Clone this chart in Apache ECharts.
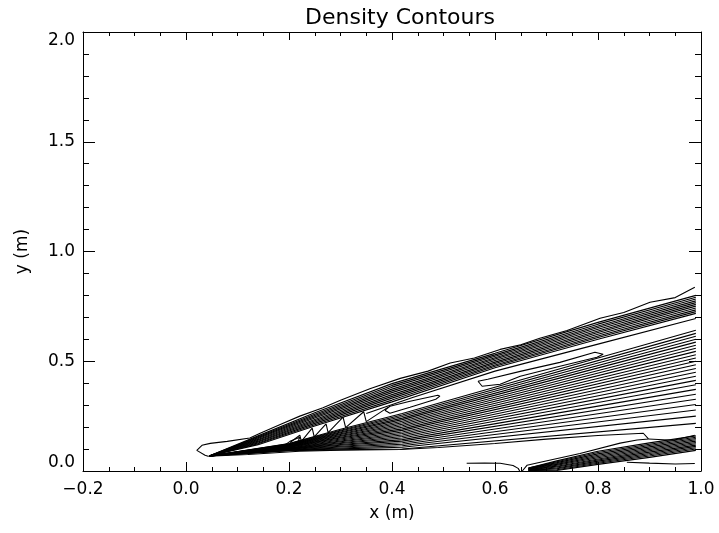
<!DOCTYPE html>
<html>
<head>
<meta charset="utf-8">
<script src="https://cdn.jsdelivr.net/npm/echarts@6/dist/echarts.min.js"></script>
<style>
html,body{margin:0;padding:0;background:#fff;}
#chart{width:719px;height:533px;}
</style>
</head>
<body>
<div id="chart"></div>
<script>
// ---- axis ticks ----
const xTicks = [-0.2, 0.0, 0.2, 0.4, 0.6, 0.8, 1.0];
const yTicks = [0.0, 0.5, 1.0, 1.5, 2.0];

// ---- contour lines (data coordinates) ----
const origin = [0.045, 0.068];

const outerContour = [[0.043,0.067],[0.037,0.072],[0.021,0.094],[0.031,0.117],[0.047,0.126],[0.080,0.135],[0.124,0.150],[0.144,0.172],[0.183,0.212],[0.221,0.250],[0.266,0.288],[0.300,0.322],[0.357,0.375],[0.416,0.422],[0.470,0.455],[0.513,0.492],[0.560,0.515],[0.610,0.554],[0.650,0.575],[0.687,0.605],[0.740,0.640],[0.804,0.696],[0.850,0.722],[0.901,0.769],[0.950,0.790],[0.988,0.837]];

// upper band: y at x = bandX for each line
const bandX = [0.14, 0.25, 0.40, 0.60, 0.80, 0.99];
const band014 = [0.160,0.156,0.152,0.148,0.144,0.140,0.136,0.132,0.128,0.124,0.120];
const band025 = [0.265,0.259,0.253,0.247,0.241,0.235,0.229,0.223,0.217,0.211,0.205];
const band040 = [0.398,0.390,0.382,0.373,0.365,0.357,0.348,0.340,0.332,0.323,0.315];
const band060 = [0.536,0.529,0.523,0.516,0.510,0.503,0.496,0.490,0.483,0.477,0.470];
const band080 = [0.677,0.669,0.661,0.654,0.646,0.638,0.631,0.623,0.615,0.608,0.600];
const band099 = [0.800,0.792,0.784,0.775,0.767,0.759,0.751,0.743,0.734,0.726,0.718];

const midLine = [[0.35,0.262],[0.44,0.335],[0.60,0.455],[0.80,0.578],[0.99,0.695]];

// lower fan: y at x = fanX for each line
const fanX = [0.20, 0.30, 0.42, 0.99];
const fan020 = [0.125,0.124,0.122,0.121,0.119,0.118,0.116,0.115,0.114,0.112,0.111,0.109,0.108,0.106,0.105,0.104,0.102,0.101,0.099,0.098,0.096,0.095,0.094,0.092];
const fan030 = [0.190,0.186,0.182,0.178,0.174,0.170,0.166,0.162,0.158,0.154,0.150,0.146,0.141,0.137,0.133,0.129,0.125,0.121,0.117,0.113,0.109,0.105,0.101,0.097];
const fan042 = [0.262,0.255,0.248,0.241,0.234,0.227,0.220,0.213,0.206,0.199,0.192,0.185,0.178,0.171,0.164,0.157,0.150,0.143,0.136,0.129,0.122,0.115,0.108,0.100];
const fan099 = [0.641,0.627,0.614,0.600,0.587,0.573,0.559,0.545,0.530,0.515,0.500,0.484,0.467,0.450,0.432,0.413,0.393,0.372,0.350,0.327,0.303,0.278,0.250,0.217];

// channel (white streaks with saw teeth)
const smallLoop = [[0.188,0.112],[0.202,0.135],[0.221,0.154],[0.216,0.126],[0.200,0.103],[0.188,0.112]];
const teeth = [[0.202,0.130],[0.221,0.163],[0.224,0.135],[0.245,0.195],[0.249,0.155],[0.272,0.215],[0.276,0.175],[0.305,0.245],[0.310,0.198],[0.345,0.270],[0.350,0.225],[0.392,0.290]];
const streak1 = [[0.386,0.277],[0.396,0.295],[0.435,0.318],[0.489,0.345],[0.493,0.341],[0.485,0.327],[0.435,0.290],[0.396,0.263],[0.386,0.277]];
const streak2 = [[0.567,0.409],[0.586,0.418],[0.649,0.454],[0.726,0.495],[0.794,0.541],[0.810,0.532],[0.798,0.518],[0.726,0.477],[0.649,0.432],[0.610,0.395],[0.575,0.386],[0.567,0.409]];

// bottom contour: along the lower edge, tip, back down to the axis
const bottomContour = [[0.043,0.067],[0.120,0.075],[0.220,0.090],[0.300,0.095],[0.416,0.098],[0.490,0.107],[0.600,0.125],[0.700,0.145],[0.800,0.162],[0.888,0.172],[0.898,0.146],[0.876,0.141],[0.843,0.127],[0.765,0.080],[0.688,0.040],[0.662,0.026],[0.653,0.000]];

// bottom-right dense band: y at x = dX for each line
const dX = [0.665, 0.72, 0.80, 0.90, 0.99];
const d0665 = [0.014,0.013,0.012,0.011,0.010,0.008,0.007,0.006,0.004,0.003,0.001,0.000];
const d072 = [0.046,0.042,0.038,0.034,0.030,0.026,0.022,0.018,0.014,0.010,0.006,0.002];
const d080 = [0.090,0.084,0.078,0.072,0.066,0.060,0.055,0.050,0.045,0.040,0.035,0.030];
const d090 = [0.128,0.122,0.116,0.110,0.104,0.098,0.092,0.086,0.080,0.074,0.068,0.062];
const d099 = [0.160,0.154,0.148,0.142,0.136,0.130,0.124,0.118,0.112,0.106,0.100,0.094];
const dTop = [[0.898,0.146],[0.946,0.140],[0.988,0.163]];

const bottomLeftLine = [[0.545,0.035],[0.580,0.036],[0.610,0.035],[0.635,0.025],[0.645,0.012],[0.648,0.000]];
const bottomRightLine = [[0.856,0.040],[0.900,0.036],[0.950,0.032],[0.988,0.034]];

// ---- build series ----
const contours = [];
contours.push(outerContour);
for (let k = 0; k < band014.length; k++) {
  const cols = [band014, band025, band040, band060, band080, band099];
  contours.push([origin].concat(bandX.map((x, j) => [x, cols[j][k]])));
}
contours.push(midLine);
for (let k = 0; k < fan020.length; k++) {
  const cols = [fan020, fan030, fan042, fan099];
  contours.push([origin].concat(fanX.map((x, j) => [x, cols[j][k]])));
}
contours.push(smallLoop, teeth, streak1, streak2, bottomContour, dTop, bottomLeftLine, bottomRightLine);
for (let k = 0; k < d0665.length; k++) {
  const cols = [d0665, d072, d080, d090, d099];
  contours.push(dX.map((x, j) => [x, cols[j][k]]));
}

const series = contours.map(pts => ({
  type: 'line', data: pts, symbol: 'none', showSymbol: false, silent: true,
  clip: true, animation: false, lineStyle: { color: '#000', width: 1.1 }
}));

const FONT = 'DejaVu Sans';
const fmt = v => v.toFixed(1).replace('-', '\u2212');
const black = { color: '#000', width: 1 };

const option = {
  backgroundColor: '#fff',
  animation: false,
  title: {
    text: 'Density Contours', left: 395, top: 2, textAlign: 'center',
    textStyle: { fontFamily: FONT, fontSize: 22, fontWeight: 'normal', color: '#000' }
  },
  grid: { left: 83, right: 18, top: 32, bottom: 62, containLabel: false },
  xAxis: [
    {
      type: 'value', position: 'bottom', min: xTicks[0], max: xTicks[xTicks.length - 1], interval: 0.2,
      axisLine: { show: true, onZero: false, lineStyle: black },
      axisTick: { show: true, inside: true, length: 9, lineStyle: black },
      minorTick: { show: true, splitNumber: 4, length: 4, lineStyle: black },
      splitLine: { show: false },
      axisLabel: { formatter: fmt, color: '#000', fontFamily: FONT, fontSize: 17, margin: 10 },
      name: 'x (m)', nameLocation: 'middle', nameGap: 34,
      nameTextStyle: { fontFamily: FONT, fontSize: 17, color: '#000' }
    },
    {
      type: 'value', position: 'top', min: xTicks[0], max: xTicks[xTicks.length - 1], interval: 0.2,
      axisLine: { show: true, onZero: false, lineStyle: black },
      axisTick: { show: true, inside: true, length: 8, lineStyle: black },
      minorTick: { show: true, splitNumber: 4, length: 4, lineStyle: black },
      splitLine: { show: false }, axisLabel: { show: false }
    }
  ],
  yAxis: [
    {
      type: 'value', position: 'left', min: yTicks[0], max: yTicks[yTicks.length - 1], interval: 0.5,
      axisLine: { show: true, onZero: false, lineStyle: black },
      axisTick: { show: true, inside: true, length: 12, lineStyle: black },
      minorTick: { show: true, splitNumber: 5, length: 6, lineStyle: black },
      splitLine: { show: false },
      axisLabel: { formatter: fmt, color: '#000', fontFamily: FONT, fontSize: 17, margin: 8,
        verticalAlignMinLabel: 'bottom', verticalAlignMaxLabel: 'top' },
      name: 'y (m)', nameLocation: 'middle', nameGap: 52, nameRotate: 90,
      nameTextStyle: { fontFamily: FONT, fontSize: 17, color: '#000' }
    },
    {
      type: 'value', position: 'right', min: yTicks[0], max: yTicks[yTicks.length - 1], interval: 0.5,
      axisLine: { show: true, onZero: false, lineStyle: black },
      axisTick: { show: true, inside: true, length: 12, lineStyle: black },
      minorTick: { show: true, splitNumber: 5, length: 6, lineStyle: black },
      splitLine: { show: false }, axisLabel: { show: false }
    }
  ],
  series: series
};

const chart = echarts.init(document.getElementById('chart'), null, { renderer: 'canvas' });
chart.setOption(option);
</script>
</body>
</html>
